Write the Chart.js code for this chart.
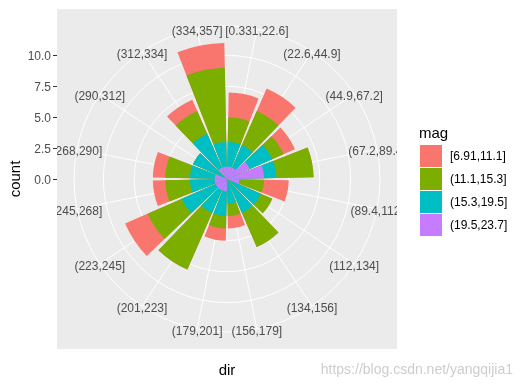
<!DOCTYPE html>
<html>
<head>
<meta charset="utf-8">
<script src="https://cdn.jsdelivr.net/npm/chart.js@4.4.1/dist/chart.umd.min.js"></script>
<style>
  body { margin: 0; background: #fff; }
  #wrap { position: relative; width: 523px; height: 387px; font-family: "Liberation Sans", Arial, sans-serif; }
  #rose { position: absolute; left: 0; top: 0; }
  .leg-title { position: absolute; left: 419px; top: 124px; font-size: 15px; color: #000; }
  .leg-key { position: absolute; left: 420px; width: 22px; height: 22px; }
  .leg-text { position: absolute; left: 450px; font-size: 12px; line-height: 14px; color: #000; }
</style>
</head>
<body>
<div id="wrap">
  <canvas id="rose" width="523" height="387"></canvas>
  <div class="leg-title">mag</div>
  <div id="legend"></div>
</div>
<script>
const dirBins = ["[0.331,22.6]", "(22.6,44.9]", "(44.9,67.2]", "(67.2,89.4]", "(89.4,112]", "(112,134]",
  "(134,156]", "(156,179]", "(179,201]", "(201,223]", "(223,245]", "(245,268]", "(268,290]",
  "(290,312]", "(312,334]", "(334,357]"];
const magLevels = ["[6.91,11.1]", "(11.1,15.3]", "(15.3,19.5]", "(19.5,23.7]"];
const magColors = ["#F8766D", "#7CAE00", "#00BFC4", "#C77CFF"];

// counts per direction bin, one array per magnitude class
const magA = [2, 2, 1, 0, 2, 0, 0, 1, 1, 0, 2, 1, 1, 0, 1, 2]; // [6.91,11.1]
const magB = [2, 3, 1, 3, 2, 1, 3, 1, 1, 5, 3, 2, 2, 0, 2, 6]; // (11.1,15.3]
const magC = [2, 2, 2, 1, 0, 3, 3, 2, 2, 2, 3, 2, 2, 3, 3, 2]; // (15.3,19.5]
const magD = [1, 1, 2, 3, 1, 0, 0, 0, 1, 1, 1, 1, 1, 0, 1, 1]; // (19.5,23.7]
const countTicks = [0, 2.5, 5, 7.5, 10];
const countLabels = ["0.0", "2.5", "5.0", "7.5", "10.0"];

const series = [magA, magB, magC, magD];
const barWidth = 0.9;
const binAngle = 360 / dirBins.length;
const pad = binAngle * (1 - barWidth) / 2;
// every bin is split in 4 slots: gap, bar, gap, gap -> slot 2 sits on the bin centre
const slotAngles = [pad, binAngle * barWidth, pad / 2, pad / 2];
const slotLabels = dirBins.flatMap(b => ["", "", b, ""]);

// stacking: a layer reaches up to itself plus everything under it
function stackedFrom(level) {
  return dirBins.map((_, i) => series.slice(level).reduce((s, arr) => s + arr[i], 0));
}
const totals = stackedFrom(0);
const rMax = Math.max(...totals) * 1.125; // bars end at r=0.4, outer circle/labels at r=0.45

const datasets = magLevels.map((lvl, m) => ({
  label: lvl,
  data: stackedFrom(m).flatMap(v => [0, v, 0, 0]),
  backgroundColor: magColors[m],
  borderWidth: 0,
  angle: ctx => slotAngles[ctx.dataIndex % 4],
})).reverse(); // first dataset is painted last, so the inner layer goes first

const font = "'Liberation Sans', Arial, sans-serif";

const ggPanel = {
  id: "ggPanel",
  beforeDraw(chart) {
    const r = chart.scales.r;
    const half = r.drawingArea / 0.9;
    const ctx = chart.ctx;
    ctx.save();
    ctx.fillStyle = "#EBEBEB";
    ctx.fillRect(r.xCenter - half, r.yCenter - half, half * 2, half * 2);
    ctx.restore();
  },
  afterDatasetsDraw(chart) {
    const r = chart.scales.r;
    const half = r.drawingArea / 0.9;
    const left = r.xCenter - half;
    const top = r.yCenter - half;
    const ctx = chart.ctx;

    // direction labels sit on the outer circle, clipped by the panel
    ctx.save();
    ctx.beginPath();
    ctx.rect(left, top, half * 2, half * 2);
    ctx.clip();
    ctx.font = "12px " + font;
    ctx.fillStyle = "#4D4D4D";
    ctx.textAlign = "center";
    ctx.textBaseline = "middle";
    slotLabels.forEach((lab, i) => {
      if (!lab) return;
      const p = r.getPointPosition(i, r.drawingArea);
      ctx.fillText(lab, p.x, p.y + 2.5);
    });
    ctx.restore();

    // count axis on the left of the panel
    ctx.save();
    ctx.font = "12px " + font;
    ctx.textAlign = "right";
    ctx.textBaseline = "middle";
    ctx.strokeStyle = "#333333";
    ctx.lineWidth = 1;
    countTicks.forEach((v, i) => {
      const y = Math.round(r.yCenter - r.getDistanceFromCenterForValue(v)) + 0.5;
      ctx.beginPath();
      ctx.moveTo(left - 4, y);
      ctx.lineTo(left, y);
      ctx.stroke();
      ctx.fillStyle = "#4D4D4D";
      ctx.fillText(countLabels[i], left - 6, y + 1);
    });

    ctx.fillStyle = "#000000";
    ctx.font = "15px " + font;
    ctx.textAlign = "center";
    ctx.fillText("dir", r.xCenter, top + half * 2 + 22);
    ctx.translate(16, r.yCenter);
    ctx.rotate(-Math.PI / 2);
    ctx.fillText("count", 0, 0);
    ctx.restore();

    ctx.save();
    ctx.font = "14px " + font;
    ctx.fillStyle = "rgba(200,200,200,0.9)";
    ctx.textAlign = "right";
    ctx.textBaseline = "middle";
    ctx.fillText("https://blog.csdn.net/yangqijia1", 513, 370);
    ctx.restore();
  }
};

new Chart(document.getElementById("rose"), {
  type: "polarArea",
  data: { labels: slotLabels, datasets: datasets },
  plugins: [ggPanel],
  options: {
    responsive: false,
    animation: false,
    layout: { padding: { left: 74, top: 26, right: 142, bottom: 54 } },
    plugins: { legend: { display: false }, tooltip: { enabled: false } },
    scales: {
      r: {
        min: 0,
        max: rMax,
        startAngle: 0,
        afterBuildTicks: s => { s.ticks = countTicks.concat(rMax).map(v => ({ value: v })); },
        ticks: { display: false },
        grid: { color: "#FFFFFF", lineWidth: 1, circular: true },
        angleLines: {
          display: true,
          color: "#FFFFFF",
          lineWidth: c => (c.label ? 1 : 0),
        },
        pointLabels: { display: false },
      },
    },
  },
});

// legend, same order as ggplot
const legendEl = document.getElementById("legend");
legendEl.innerHTML = magLevels.map((lvl, i) => `
  <div class="leg-key" style="top:${145 + i * 23}px;background:${magColors[i]}"></div>
  <div class="leg-text" style="top:${149 + i * 23}px">${lvl}</div>`).join("");
</script>
</body>
</html>
